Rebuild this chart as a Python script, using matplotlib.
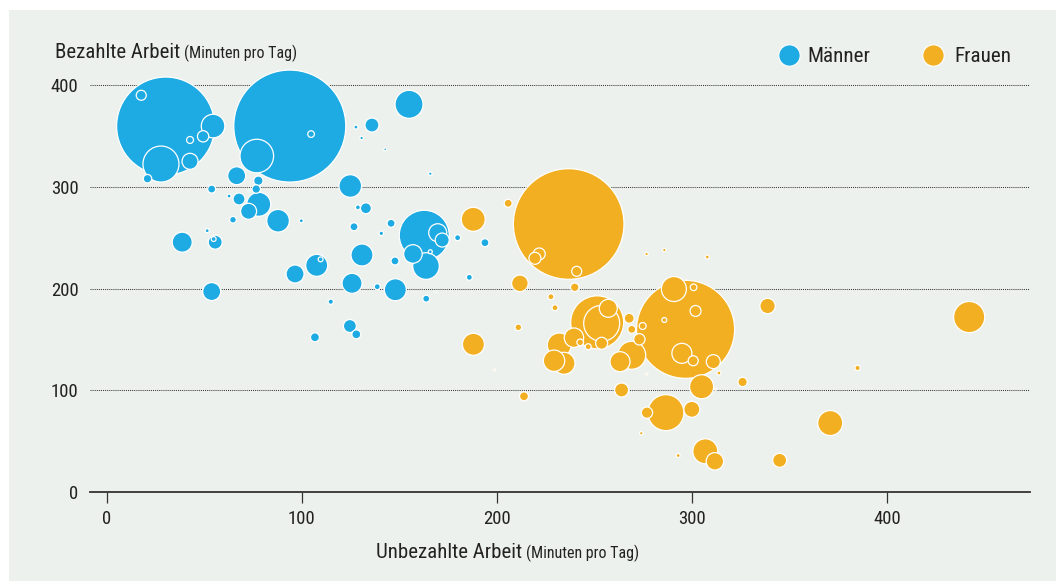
import matplotlib
matplotlib.use("Agg")
import matplotlib.pyplot as plt
import numpy as np
from matplotlib import font_manager
from matplotlib.lines import Line2D
from matplotlib.patches import Rectangle

# Unbezahlte / bezahlte Arbeit in Minuten pro Tag, Gewicht = Blasenfläche
maenner_unbezahlt = [30.3, 17.8, 54.6, 49.5, 42.8, 27.9, 42.8, 21.0, 93.9, 104.8,
                     77.0, 66.7, 77.8, 76.7, 155.0, 136.0, 127.8, 130.7, 142.8, 165.9,
                     124.9, 53.9, 62.8, 67.9, 73.0, 78.0, 72.8, 64.8, 87.9, 99.8,
                     51.6, 38.8, 55.7, 54.9, 53.9, 96.6, 128.8, 132.9, 126.8, 145.8,
                     140.8, 162.8, 169.7, 172.0, 157.0, 165.9, 163.7, 179.9, 193.9, 185.9,
                     130.9, 147.8, 107.7, 109.7, 125.8, 138.7, 148.0, 168.8, 163.8, 114.9,
                     124.7, 128.0, 106.8]
maenner_bezahlt = [359.9, 390.2, 359.9, 349.8, 346.2, 322.5, 325.2, 308.1, 359.9, 352.0,
                   330.4, 311.0, 306.1, 297.9, 381.3, 360.9, 358.9, 348.1, 337.0, 313.0,
                   300.9, 297.9, 291.0, 288.1, 296.0, 282.9, 276.0, 267.7, 266.7, 266.7,
                   256.9, 245.6, 245.6, 248.7, 197.0, 214.3, 279.9, 279.0, 260.8, 264.2,
                   254.3, 252.4, 254.9, 247.7, 234.0, 236.2, 222.1, 250.0, 245.1, 211.0,
                   233.0, 227.1, 222.8, 228.7, 205.1, 201.8, 198.8, 196.9, 190.0, 187.0,
                   163.1, 154.9, 152.0]
maenner_gewicht = [2401, 25, 139, 32, 12, 324, 64, 18, 3136, 11,
                   282, 81, 22, 18, 196, 49, 4, 3, 2, 3,
                   128, 16, 4, 36, 1, 144, 64, 11, 128, 4,
                   4, 100, 49, 6, 81, 81, 6, 30, 16, 16,
                   5, 625, 81, 49, 86, 4, 177, 9, 16, 9,
                   121, 16, 121, 6, 100, 9, 121, 1, 12, 7,
                   42, 20, 20]

frauen_unbezahlt = [236.8, 221.7, 219.5, 240.9, 205.8, 187.9, 276.7, 285.8, 307.8, 211.8,
                    239.9, 227.7, 229.8, 211.0, 251.4, 253.7, 257.1, 267.8, 269.1, 274.7,
                    273.0, 239.5, 232.0, 229.3, 234.4, 242.7, 246.8, 253.7, 269.1, 263.1,
                    296.7, 290.7, 300.8, 301.8, 285.8, 294.8, 300.6, 310.9, 313.8, 325.9,
                    304.9, 312.1, 338.7, 442.0, 384.8, 263.9, 213.9, 286.6, 276.9, 299.9,
                    274.0, 292.9, 370.8, 306.8, 311.7, 344.9, 188.0, 198.8, 276.7]
frauen_bezahlt = [263.5, 234.0, 229.7, 216.9, 283.9, 268.1, 234.0, 237.9, 231.0, 205.1,
                  201.2, 191.9, 181.1, 161.8, 166.7, 165.7, 180.5, 170.7, 159.8, 163.1,
                  150.0, 151.6, 144.4, 128.9, 126.4, 147.0, 142.7, 146.1, 134.3, 128.0,
                  159.8, 199.5, 201.2, 177.9, 169.0, 136.2, 128.9, 128.0, 116.8, 108.0,
                  103.3, 100.8, 182.8, 171.9, 121.8, 100.1, 93.9, 77.8, 77.8, 81.1,
                  57.5, 35.6, 67.6, 39.8, 29.9, 30.9, 145.1, 119.8, 115.8]
frauen_gewicht = [3058, 36, 36, 25, 16, 144, 3, 3, 4, 69,
                  18, 9, 9, 11, 702, 324, 81, 25, 16, 12,
                  32, 94, 144, 114, 121, 11, 9, 36, 196, 100,
                  2401, 156, 11, 30, 6, 100, 25, 49, 4, 22,
                  144, 1, 59, 243, 7, 49, 20, 324, 32, 64,
                  3, 4, 156, 156, 76, 49, 121, 1, 1]

x_ticks = [0, 100, 200, 300, 400]
y_ticks = [0, 100, 200, 300, 400]

BLAU = "#1eaae2"
ORANGE = "#f2af22"
HINTERGRUND = "#edf1ed"
TEXT = "#222222"


def schmale_schrift():
    # eine schmale (condensed/narrow) Schrift suchen, sonst Roboto
    kandidaten = []
    for f in font_manager.fontManager.ttflist:
        name = f.name.lower()
        fname = f.fname.lower()
        stretch = f.stretch
        schmal = ("narrow" in name or "condensed" in name or "condensed" in fname
                  or "narrow" in fname
                  or (isinstance(stretch, str) and "condensed" in stretch and "extra" not in stretch
                      and "ultra" not in stretch)
                  or (isinstance(stretch, (int, float)) and 300 <= stretch < 500))
        if not schmal or f.style != "normal":
            continue
        if f.weight not in (400, "normal", "regular", "book"):
            continue
        if "semi" in fname or "extra" in fname or "mono" in fname:
            continue
        rang = 0 if "roboto" in name else 1 if "liberation" in name else 2 if "noto" in name else 3
        kandidaten.append((rang, f.fname))
    if kandidaten:
        kandidaten.sort()
        return font_manager.FontProperties(fname=kandidaten[0][1])
    return font_manager.FontProperties(family="Roboto")


FP = schmale_schrift()


def fp(size):
    p = FP.copy()
    p.set_size(size)
    return p


fig = plt.figure(figsize=(10.56, 5.81), dpi=100)
fig.patch.set_facecolor("white")
fig.patches.append(Rectangle((9 / 1056, 0), 1.0, 1 - 10 / 581, transform=fig.transFigure,
                             facecolor=HINTERGRUND, edgecolor="none", zorder=-10))

ax = fig.add_axes([89.6 / 1056, (581 - 491.7) / 581, 940.1 / 1056, 426.7 / 581])
ax.set_facecolor("none")

# alle Blasen gemeinsam, große zuerst, damit kleine obenauf liegen
xs = np.array(maenner_unbezahlt + frauen_unbezahlt)
ys = np.array(maenner_bezahlt + frauen_bezahlt)
gew = np.array(maenner_gewicht + frauen_gewicht, dtype=float)
farben = np.array([BLAU] * len(maenner_gewicht) + [ORANGE] * len(frauen_gewicht))
order = np.argsort(-gew, kind="stable")

ax.scatter(xs[order], ys[order], s=gew[order] * 1.44 ** 2, c=farben[order],
           edgecolors="white", linewidths=0.9, zorder=3, clip_on=False)

ax.set_xlim(-8.66, 473.0)
ax.set_ylim(0, 420)

for y in y_ticks[1:]:
    ax.axhline(y, color="#3a3a3a", linewidth=0.75, linestyle=(0, (1, 1)), zorder=1)

for side in ["top", "right", "left"]:
    ax.spines[side].set_visible(False)
ax.spines["bottom"].set_color("#333333")
ax.spines["bottom"].set_linewidth(1.3)

ax.set_xticks(x_ticks)
ax.set_yticks(y_ticks)
ax.tick_params(axis="x", direction="out", length=8, width=0.9, color="#333333",
               labelcolor=TEXT, pad=5)
ax.tick_params(axis="y", length=0, labelcolor=TEXT, pad=8)
for lab in ax.get_xticklabels() + ax.get_yticklabels():
    lab.set_fontproperties(fp(13.5))

renderer = fig.canvas.get_renderer()


def zweiteilig(x_px, base_px, gross, klein, size_gross, size_klein):
    t1 = fig.text(x_px / 1056, 1 - base_px / 581, gross, fontproperties=fp(size_gross),
                  color=TEXT, ha="left", va="baseline")
    bb = t1.get_window_extent(renderer)
    fig.text((bb.x1 + 4) / 1056, 1 - base_px / 581, klein, fontproperties=fp(size_klein),
             color=TEXT, ha="left", va="baseline")


zweiteilig(55, 58.3, "Bezahlte Arbeit", "(Minuten pro Tag)", 15, 11.5)
zweiteilig(376, 557.7, "Unbezahlte Arbeit", "(Minuten pro Tag)", 15, 11.5)

# Legende
for cx, tx, farbe, label in [(788.7, 807.3, BLAU, "Männer"), (933, 954.7, ORANGE, "Frauen")]:
    fig.add_artist(Line2D([cx / 1056], [1 - 55 / 581], marker="o", markersize=15.4,
                          markerfacecolor=farbe, markeredgecolor="white",
                          markeredgewidth=0.8, linestyle="none",
                          transform=fig.transFigure))
    fig.text(tx / 1056, 1 - 61.7 / 581, label, fontproperties=fp(15.2), color=TEXT,
             ha="left", va="baseline")

fig.savefig("out.png", dpi=100, facecolor=fig.get_facecolor())
